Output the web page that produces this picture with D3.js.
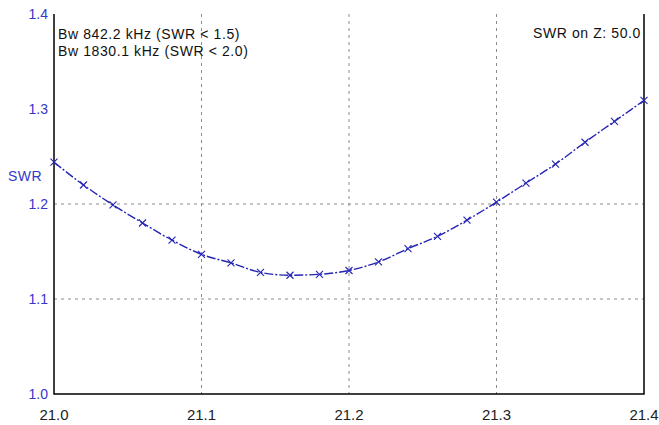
<!DOCTYPE html>
<html>
<head>
<meta charset="utf-8">
<script src="https://cdn.jsdelivr.net/npm/d3@7"></script>
<style>
  html, body { margin: 0; padding: 0; background: #fff; }
  svg { display: block; font-family: "Liberation Sans", Arial, sans-serif; }
</style>
</head>
<body>
<svg id="chart" width="659" height="425"></svg>
<script>
// Frequency sweep (MHz) and measured SWR at each step
const freqs = [21.00, 21.02, 21.04, 21.06, 21.08, 21.10, 21.12, 21.14, 21.16, 21.18, 21.20,
               21.22, 21.24, 21.26, 21.28, 21.30, 21.32, 21.34, 21.36, 21.38, 21.40];
const swr   = [1.244, 1.220, 1.199, 1.180, 1.162, 1.147, 1.138, 1.128, 1.125, 1.126, 1.130,
               1.139, 1.153, 1.166, 1.183, 1.202, 1.222, 1.242, 1.265, 1.287, 1.309];

const xTicks = [21.0, 21.1, 21.2, 21.3, 21.4];
const yTicks = [1.0, 1.1, 1.2, 1.3, 1.4];
const xGrid = [21.1, 21.2, 21.3];
const yGrid = [1.1, 1.2];

const infoLines = ["Bw 842.2 kHz (SWR < 1.5)", "Bw 1830.1 kHz (SWR < 2.0)"];
const refText = "SWR on Z: 50.0";

const svg = d3.select("#chart");
const plotL = 54, plotR = 644, plotT = 14, plotB = 394;

const x = d3.scaleLinear().domain([21.0, 21.4]).range([plotL, plotR]);
const y = d3.scaleLinear().domain([1.0, 1.4]).range([plotB, plotT]);

const blue = "#2424b4";
const labelBlue = "#3636cc";

// grid
svg.append("g").selectAll("line").data(xGrid).join("line")
  .attr("x1", d => x(d)).attr("x2", d => x(d))
  .attr("y1", plotT).attr("y2", plotB)
  .attr("stroke", "#8a8a8a").attr("stroke-width", 1).attr("stroke-dasharray", "3,4");
svg.append("g").selectAll("line").data(yGrid).join("line")
  .attr("x1", plotL).attr("x2", plotR)
  .attr("y1", d => y(d)).attr("y2", d => y(d))
  .attr("stroke", "#8a8a8a").attr("stroke-width", 1).attr("stroke-dasharray", "3,4");

// frame: left, bottom, right
svg.append("path")
  .attr("d", `M${plotL},${plotT}V${plotB}H${plotR}V${plotT}`)
  .attr("fill", "none").attr("stroke", "#000").attr("stroke-width", 1.5);

// y tick labels
svg.append("g").selectAll("text").data(yTicks).join("text")
  .attr("x", plotL - 6).attr("y", d => y(d) + 5)
  .attr("text-anchor", "end").attr("font-size", 14).attr("fill", labelBlue)
  .text(d => d.toFixed(1));

// x tick labels
svg.append("g").selectAll("text").data(xTicks).join("text")
  .attr("x", d => x(d)).attr("y", plotB + 26)
  .attr("text-anchor", "middle").attr("font-size", 15).attr("fill", "#222")
  .text(d => d.toFixed(1));

// axis title
svg.append("text").attr("x", 8).attr("y", 181)
  .attr("font-size", 14).attr("letter-spacing", 0.5).attr("fill", labelBlue).text("SWR");

// curve
const pts = freqs.map((f, i) => [f, swr[i]]);
svg.append("path").datum(pts)
  .attr("d", d3.line().x(d => x(d[0])).y(d => y(d[1])).curve(d3.curveMonotoneX))
  .attr("fill", "none").attr("stroke", blue).attr("stroke-width", 1.4)
  .attr("stroke-dasharray", "9,2,2,2");

// markers
const m = 3.5;
svg.append("g").selectAll("path").data(pts).join("path")
  .attr("d", d => {
    const cx = x(d[0]), cy = y(d[1]);
    return `M${cx - m},${cy - m}L${cx + m},${cy + m}M${cx - m},${cy + m}L${cx + m},${cy - m}`;
  })
  .attr("stroke", blue).attr("stroke-width", 1.1).attr("fill", "none");

// bandwidth info
svg.append("g").selectAll("text").data(infoLines).join("text")
  .attr("x", plotL + 4).attr("y", (d, i) => 39 + i * 17)
  .attr("font-size", 14).attr("letter-spacing", 0.6).attr("fill", "#111").text(d => d);

svg.append("text").attr("x", plotR - 3).attr("y", 38)
  .attr("text-anchor", "end").attr("font-size", 14).attr("letter-spacing", 0.6)
  .attr("fill", "#111").text(refText);
</script>
</body>
</html>
